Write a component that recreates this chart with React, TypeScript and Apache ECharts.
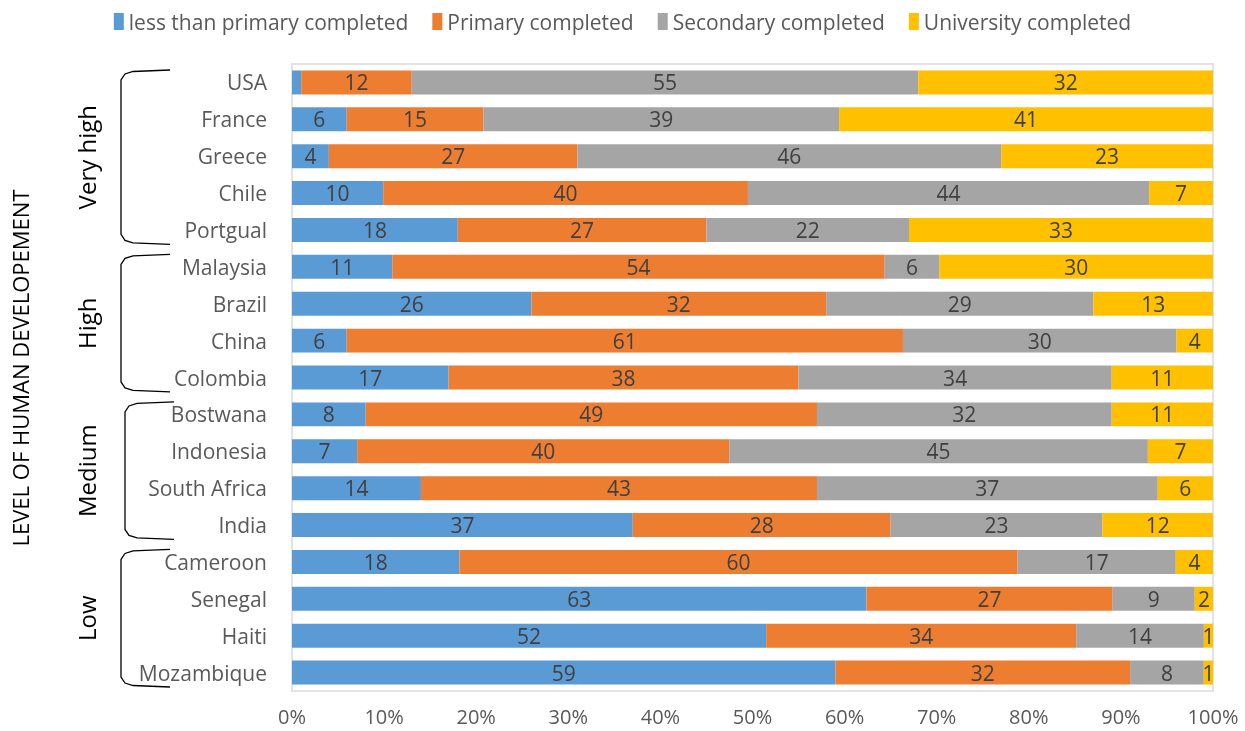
import React, { useEffect, useRef } from "react";
import * as echarts from "echarts";

const categories = ["USA", "France", "Greece", "Chile", "Portgual", "Malaysia", "Brazil", "China", "Colombia", "Bostwana", "Indonesia", "South Africa", "India", "Cameroon", "Senegal", "Haiti", "Mozambique"];
const seriesNames = ["less than primary completed", "Primary completed", "Secondary completed", "University completed"];
const lessPrimary = [1, 6, 4, 10, 18, 11, 26, 6, 17, 8, 7, 14, 37, 18, 63, 52, 59];
const primary = [12, 15, 27, 40, 27, 54, 32, 61, 38, 49, 40, 43, 28, 60, 27, 34, 32];
const secondary = [55, 39, 46, 44, 22, 6, 29, 30, 34, 32, 45, 37, 23, 17, 9, 14, 8];
const university = [32, 41, 23, 7, 33, 30, 13, 4, 11, 11, 7, 6, 12, 4, 2, 1, 1];
const xTicks = [0, 10, 20, 30, 40, 50, 60, 70, 80, 90, 100];
const groups = ["Very high", "High", "Medium", "Low"];
const groupSizes = [5, 4, 4, 4];
const hiddenLabels = [[0, 0]]; // [seriesIndex, categoryIndex]

const colors = ["#5B9BD5", "#ED7D31", "#A5A5A5", "#FFC000"];
const FONT = "Open Sans";

export default function App() {
  const ref = useRef<HTMLDivElement>(null);
  useEffect(() => {
    if (!ref.current) return;
    const chart = echarts.init(ref.current, null, { renderer: "svg" });
    const all = [lessPrimary, primary, secondary, university];
    const totals = categories.map((_, i) => all.reduce((s, arr) => s + arr[i], 0));

    const gridLeft = 292, gridTop = 64, gridRight = 32, gridBottom = 40;
    const H = 731;
    const plotH = H - gridTop - gridBottom;
    const band = plotH / categories.length;

    const graphics: any[] = [];
    let start = 0;
    groups.forEach((g, gi) => {
      const n = groupSizes[gi];
      const y0 = gridTop + start * band + 6;
      const y1 = gridTop + (start + n) * band - 4;
      const xl = 121 + (gi === 2 ? 4 : 0);
      const xr = 170 + (gi === 2 ? 4 : 0);
      graphics.push({
        type: "polyline",
        shape: {
          points: [
            [xr, y0], [xl + 12, y0 + 1.5], [xl + 4, y0 + 4], [xl, y0 + 10],
            [xl, y1 - 10], [xl + 4, y1 - 4], [xl + 12, y1 - 1.5], [xr, y1],
          ],
        },
        style: { stroke: "#000", lineWidth: 1.3, fill: null },
        silent: true,
      });
      graphics.push({
        type: "text",
        x: 86,
        y: (y0 + y1) / 2,
        rotation: Math.PI / 2,
        style: {
          text: g,
          fontSize: 24,
          fontFamily: FONT,
          fill: "#000",
          align: "center",
          verticalAlign: "middle",
        },
      });
      start += n;
    });
    graphics.push({
      type: "text",
      x: 20,
      y: 368,
      rotation: Math.PI / 2,
      style: {
        text: "LEVEL OF HUMAN DEVELOPEMENT",
        fontSize: 22,
        fontFamily: FONT,
        fill: "#000",
        align: "center",
        verticalAlign: "middle",
      },
    });

    const series = all.map((arr, si) => ({
      name: seriesNames[si],
      type: "bar",
      stack: "total",
      barWidth: "65%",
      itemStyle: { color: colors[si] },
      label: {
        show: true,
        position: "inside",
        color: "#404040",
        fontSize: 21,
        fontFamily: FONT,
        formatter: (p: any) => String(arr[p.dataIndex]),
      },
      data: arr.map((v, i) => {
        const item: any = { value: (v / totals[i]) * 100 };
        if (hiddenLabels.some(([s, c]) => s === si && c === i)) item.label = { show: false };
        return item;
      }),
    }));

    chart.setOption({
      animation: false,
      textStyle: { fontFamily: FONT },
      legend: {
        top: 6,
        left: "center",
        itemWidth: 10,
        itemHeight: 17,
        itemGap: 24,
        icon: "rect",
        textStyle: { fontSize: 21, color: "#595959", fontFamily: FONT },
        data: seriesNames,
      },
      grid: {
        left: gridLeft,
        right: gridRight,
        top: gridTop,
        bottom: gridBottom,
        show: true,
        borderColor: "#e3e3e3",
        borderWidth: 2,
      },
      xAxis: {
        type: "value",
        min: xTicks[0],
        max: xTicks[xTicks.length - 1],
        interval: 10,
        axisLine: { show: false },
        axisTick: { show: false },
        splitLine: { show: false },
        axisLabel: {
          formatter: "{value}%",
          color: "#595959",
          fontSize: 20,
          fontFamily: FONT,
          margin: 15,
        },
      },
      yAxis: {
        type: "category",
        inverse: true,
        data: categories,
        axisLine: { show: false },
        axisTick: { show: false },
        axisLabel: { color: "#595959", fontSize: 21, fontFamily: FONT, margin: 25 },
      },
      graphic: graphics,
      series,
    });
    return () => chart.dispose();
  }, []);
  return <div ref={ref} style={{ position: "fixed", left: 0, top: 0, width: 1245, height: 731 }} />;
}
